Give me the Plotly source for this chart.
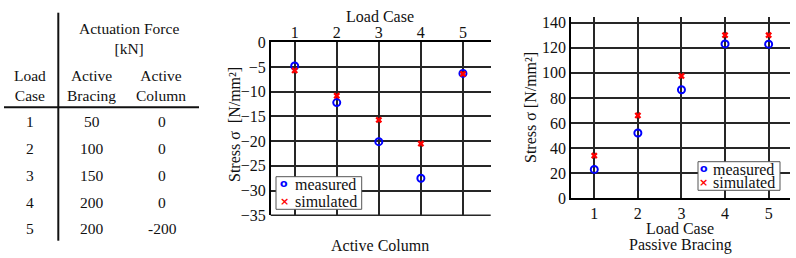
import plotly.graph_objects as go

W, H = 796, 258
FONT = "Liberation Serif, Times New Roman, serif"

# ---- data ----
load_cases = [1, 2, 3, 4, 5]
active_bracing_kN = [50, 100, 150, 200, 200]
active_column_kN = [0, 0, 0, 0, -200]

col_measured = [-4.8, -12.2, -20.1, -27.5, -6.3]
col_simulated = [-5.7, -10.8, -15.7, -20.5, -6.4]

brace_measured = [23, 52, 86.5, 123, 122.8]
brace_simulated = [34, 66, 97.5, 130, 130]

col_yticks = [0, -5, -10, -15, -20, -25, -30, -35]
brace_yticks = [0, 20, 40, 60, 80, 100, 120, 140]

series_names = ["measured", "simulated"]
BLUE, RED = "#0000ff", "#ff0000"


def px(x):
    return x / W


def py(y):
    return 1 - y / H


fig = go.Figure()

meas_marker = dict(symbol="circle-open", size=7, color=BLUE, line=dict(width=2, color=BLUE))
sim_marker = dict(symbol="x", size=6, color=RED, line=dict(width=0))

fig.add_trace(go.Scatter(x=load_cases, y=col_measured, mode="markers", name=series_names[0],
                         marker=meas_marker, xaxis="x", yaxis="y"))
fig.add_trace(go.Scatter(x=load_cases, y=col_simulated, mode="markers", name=series_names[1],
                         marker=sim_marker, xaxis="x", yaxis="y"))
fig.add_trace(go.Scatter(x=load_cases, y=brace_measured, mode="markers", name=series_names[0],
                         marker=meas_marker, xaxis="x2", yaxis="y2"))
fig.add_trace(go.Scatter(x=load_cases, y=brace_simulated, mode="markers", name=series_names[1],
                         marker=sim_marker, xaxis="x2", yaxis="y2"))

grid = dict(showgrid=True, gridcolor="#262626", gridwidth=1.5, zeroline=False, automargin=False,
            ticks="", tickfont=dict(family=FONT, size=16, color="#111"),
            showline=True, linecolor="black", linewidth=1.5)

fig.update_layout(
    width=W, height=H,
    margin=dict(l=0, r=0, t=0, b=0),
    paper_bgcolor="white", plot_bgcolor="white",
    font=dict(family=FONT, size=16, color="#111"),
    showlegend=False,
    xaxis=dict(domain=[px(270.7), px(490.7)], range=[0.43, 5.66], side="top",
               tickvals=load_cases, anchor="y", ticklabelstandoff=-4, **grid),
    yaxis=dict(domain=[py(215.3), py(42.3)], range=[-35, 0], tickvals=col_yticks,
               anchor="x", **grid),
    xaxis2=dict(domain=[px(571), px(790)], range=[0.466, 5.49], tickvals=load_cases,
                anchor="y2", **grid),
    yaxis2=dict(domain=[py(198.3), py(16.7)], range=[0, 144.7], tickvals=brace_yticks,
                anchor="x2", **grid),
)

# bottom edge of the middle plot
fig.add_shape(type="line", xref="x domain", yref="y domain", x0=0, x1=1, y0=0, y1=0,
              line=dict(color="#262626", width=1.5))

annotations = []


def txt(x, y, s, size=15.5, xanchor="center", angle=0, color="#111", family=FONT):
    annotations.append(dict(x=px(x), y=py(y), xref="paper", yref="paper", text=s,
                            showarrow=False, xanchor=xanchor, yanchor="middle",
                            textangle=angle, borderpad=0,
                            font=dict(family=family, size=size, color=color)))


# axis titles
txt(380, 16.5, "Load Case", 16)
txt(235, 124, "Stress σ  [N/mm²]", 16, angle=-90)
txt(380, 245, "Active Column", 16)
txt(530, 108, "Stress σ [N/mm²]", 16, angle=-90)
txt(680, 228.8, "Load Case", 16)
txt(680, 244.8, "Passive Bracing", 16)

# legends (drawn as boxed keys)
fig.add_shape(type="rect", xref="paper", yref="paper", x0=px(276), x1=px(361.7),
              y0=py(209.3), y1=py(176.7), fillcolor="white", line=dict(color="#555", width=1))
fig.add_shape(type="rect", xref="paper", yref="paper", x0=px(698), x1=px(780),
              y0=py(190.3), y1=py(161.7), fillcolor="white", line=dict(color="#555", width=1))

for (kx, tx, ys) in [(284.3, 294, [184.3, 201.5]), (703.5, 711.5, [169.3, 182.9])]:
    txt(kx, ys[0] - 0.5, "<b>o</b>", 11, color=BLUE, family="DejaVu Sans")
    txt(kx, ys[1], "<b>×</b>", 11, color=RED, family="DejaVu Sans")
    txt(tx, ys[0], series_names[0], 16, xanchor="left")
    txt(tx, ys[1], series_names[1], 16, xanchor="left")

# table
txt(129, 38, "Actuation Force<br>[kN]")
txt(30, 86, "Load<br>Case")
txt(91, 86, "Active<br>Bracing")
txt(161, 86, "Active<br>Column")
row_y = [121.7, 148.3, 175, 202.3, 228.7]
for lc, ab, ac, yy in zip(load_cases, active_bracing_kN, active_column_kN, row_y):
    txt(30, yy, str(lc))
    txt(92, yy, str(ab))
    txt(162, yy, str(ac))

fig.update_layout(annotations=annotations)

fig.add_shape(type="line", xref="paper", yref="paper", x0=px(58.3), x1=px(58.3),
              y0=py(12.7), y1=py(240.7), line=dict(color="#111", width=2))
fig.add_shape(type="line", xref="paper", yref="paper", x0=px(4), x1=px(199),
              y0=py(107.3), y1=py(107.3), line=dict(color="#111", width=2))

fig.write_html("out.html", config={"displayModeBar": False},
               post_script="document.body.style.margin='0';document.body.style.overflow='hidden';")
